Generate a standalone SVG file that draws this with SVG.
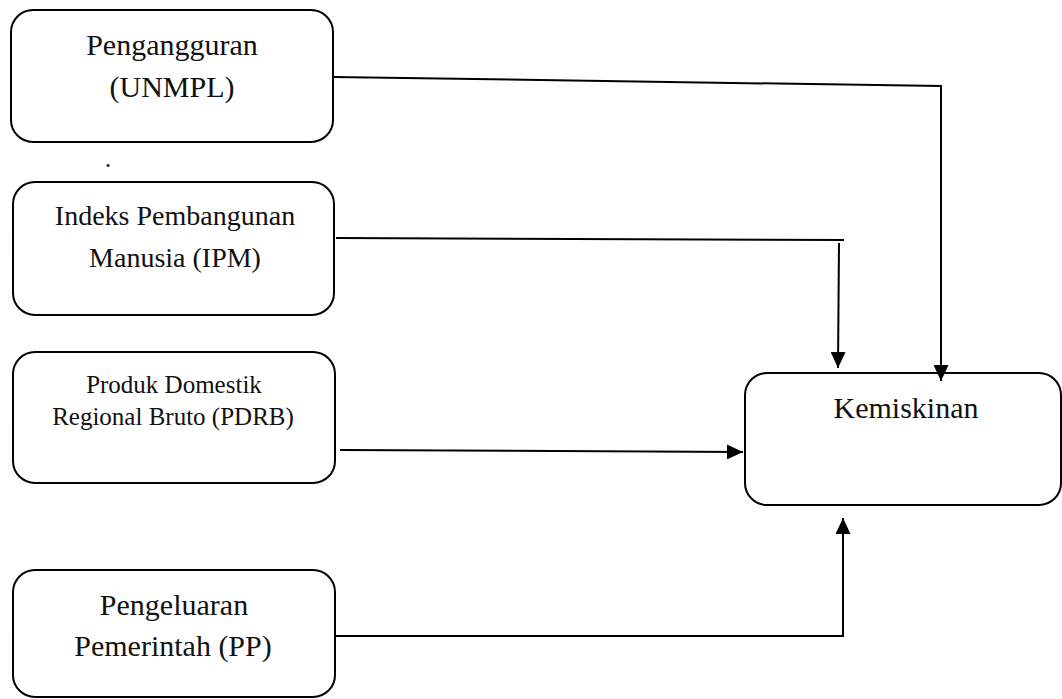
<svg xmlns="http://www.w3.org/2000/svg" width="1062" height="699" viewBox="0 0 1062 699">
<style>
.box{fill:#fff;stroke:#000;stroke-width:2}
.t{font-family:"Liberation Serif","DejaVu Serif",serif;fill:#111;text-anchor:middle}
.c{fill:none;stroke:#000;stroke-width:2}
</style>
<defs>
<marker id="ah" viewBox="0 0 16 15" refX="16" refY="7.5" markerWidth="16" markerHeight="15" markerUnits="userSpaceOnUse" orient="auto">
<path d="M0,0 L16,7.5 L0,15 Z" fill="#000"/>
</marker>
</defs>
<rect width="1062" height="699" fill="#fff"/>
<g id="unmpl">
<rect class="box" x="11" y="10" width="322" height="132" rx="22"/>
<text class="t" x="172" y="55" font-size="30" font-family="Liberation Serif, serif">Pengangguran</text>
<text class="t" x="172" y="97" font-size="30" font-family="Liberation Serif, serif">(UNMPL)</text>
</g>
<text class="t" x="108" y="167" font-size="26" font-family="Liberation Serif, serif">.</text>
<g id="ipm">
<rect class="box" x="13" y="182" width="321" height="133" rx="22"/>
<text class="t" x="175" y="225" font-size="28" font-family="Liberation Serif, serif">Indeks Pembangunan</text>
<text class="t" x="175" y="267" font-size="28" font-family="Liberation Serif, serif">Manusia (IPM)</text>
</g>
<g id="pdrb">
<rect class="box" x="13" y="352" width="322" height="131" rx="22"/>
<text class="t" x="174" y="393" font-size="25" font-family="Liberation Serif, serif">Produk Domestik</text>
<text class="t" x="173" y="425" font-size="25" font-family="Liberation Serif, serif">Regional Bruto (PDRB)</text>
</g>
<g id="pp">
<rect class="box" x="13" y="570" width="322" height="127" rx="22"/>
<text class="t" x="174" y="615" font-size="30" font-family="Liberation Serif, serif">Pengeluaran</text>
<text class="t" x="173" y="656" font-size="30" font-family="Liberation Serif, serif">Pemerintah (PP)</text>
</g>
<g id="kemiskinan">
<rect class="box" x="745" y="373" width="316" height="132" rx="22"/>
<text class="t" x="906" y="418" font-size="30" font-family="Liberation Serif, serif">Kemiskinan</text>
</g>
<g id="connectors">
<polyline class="c" points="333,77 941,86 941,381" marker-end="url(#ah)"/>
<line class="c" x1="336" y1="238" x2="844" y2="240"/>
<line class="c" x1="839" y1="243" x2="838" y2="368" stroke-width="2.5" marker-end="url(#ah)"/>
<line class="c" x1="340" y1="450" x2="743" y2="452" stroke-width="3" marker-end="url(#ah)"/>
<polyline class="c" points="335,636 843,636 843,518" marker-end="url(#ah)"/>
</g>
</svg>
